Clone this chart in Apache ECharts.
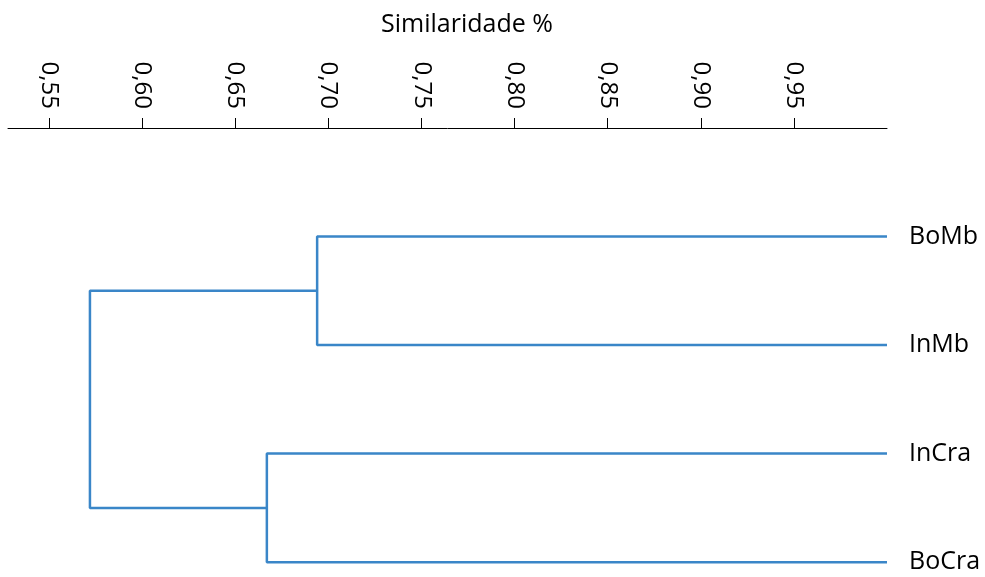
<!DOCTYPE html>
<html>
<head>
<meta charset="utf-8">
<script src="https://cdn.jsdelivr.net/npm/echarts@6/dist/echarts.min.js"></script>
<style>html,body{margin:0;padding:0;background:#fff;}#c{width:985px;height:577px;}</style>
</head>
<body>
<div id="c"></div>
<script>
// Leaves (top to bottom) and their similarity level (leaves sit at 1.0)
const leafNames = ['BoMb', 'InMb', 'InCra', 'BoCra'];
const leafSim = 1.0;
// Merge steps: node ids 0..3 are leaves, merges create nodes 4, 5, 6
const mergeLeft  = [0, 2, 4];
const mergeRight = [1, 3, 5];
const mergeSim   = [0.694, 0.667, 0.572];
// Axis tick labels
const tickValues = [0.55, 0.60, 0.65, 0.70, 0.75, 0.80, 0.85, 0.90, 0.95];
const axisTitle = 'Similaridade %';

const nodeX = leafNames.map(() => leafSim);
const nodeY = leafNames.map((_, i) => i);
const series = [];
mergeSim.forEach((s, k) => {
  const a = mergeLeft[k], b = mergeRight[k];
  nodeX.push(s);
  nodeY.push((nodeY[a] + nodeY[b]) / 2);
  series.push({
    type: 'line',
    data: [[nodeX[a], nodeY[a]], [s, nodeY[a]], [s, nodeY[b]], [nodeX[b], nodeY[b]]],
    symbol: 'none',
    clip: false,
    silent: true,
    lineStyle: { color: '#3A86C8', width: 2.5 }
  });
});

const chart = echarts.init(document.getElementById('c'), null, { renderer: 'canvas' });
chart.setOption({
  animation: false,
  backgroundColor: '#ffffff',
  title: {
    text: axisTitle,
    left: 376, top: 7,
    textStyle: { fontFamily: 'Open Sans', fontSize: 25, fontWeight: 'normal', color: '#000' }
  },
  grid: { left: 8, right: 98, top: 128, bottom: 4 },
  xAxis: {
    type: 'value',
    position: 'top',
    min: 0.528,
    max: 1.0,
    axisLine: { show: true, onZero: false, lineStyle: { color: '#000', width: 1 } },
    axisTick: { show: true, length: 10, customValues: tickValues, lineStyle: { color: '#000', width: 1 } },
    axisLabel: {
      customValues: tickValues,
      rotate: 90,
      margin: 19,
      fontFamily: 'Open Sans',
      fontSize: 24,
      color: '#000',
      formatter: v => v.toFixed(2).replace('.', ',')
    },
    splitLine: { show: false }
  },
  yAxis: {
    type: 'value',
    inverse: true,
    position: 'right',
    min: -1,
    max: 3.1,
    interval: 1,
    axisLine: { show: false },
    axisTick: { show: false },
    splitLine: { show: false },
    axisLabel: {
      margin: 22,
      showMaxLabel: false,
      fontFamily: 'Open Sans',
      fontSize: 25,
      color: '#000',
      formatter: v => (Number.isInteger(v) && v >= 0 && v < leafNames.length) ? leafNames[v] : ''
    }
  },
  series: series
});
</script>
</body>
</html>
